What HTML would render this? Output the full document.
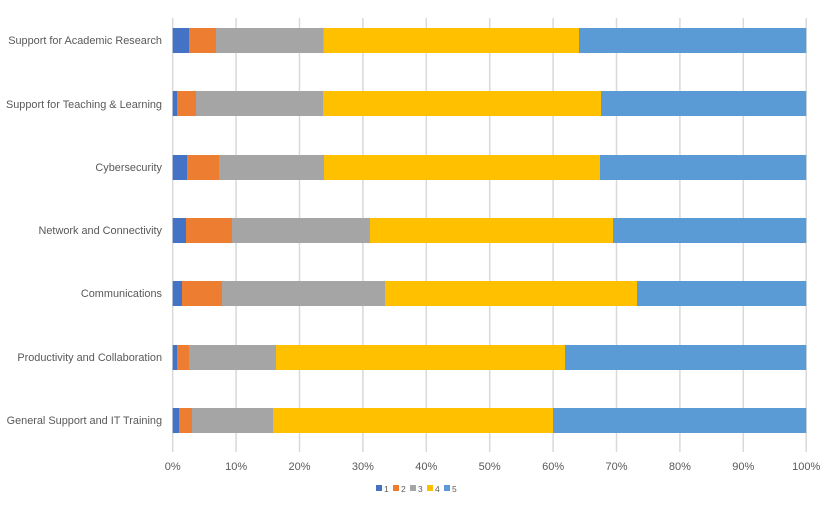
<!DOCTYPE html>
<html><head><meta charset="utf-8"><style>
body{margin:0;background:#fff;}
text{font-family:"Liberation Sans",sans-serif;fill:#595959;}
</style></head><body>
<svg width="829" height="503" xmlns="http://www.w3.org/2000/svg">
<g stroke="#d9d9d9" stroke-width="1.5">
<line x1="172.7" y1="18" x2="172.7" y2="452"/><line x1="236.1" y1="18" x2="236.1" y2="452"/><line x1="299.5" y1="18" x2="299.5" y2="452"/><line x1="362.9" y1="18" x2="362.9" y2="452"/><line x1="426.3" y1="18" x2="426.3" y2="452"/><line x1="489.7" y1="18" x2="489.7" y2="452"/><line x1="553.1" y1="18" x2="553.1" y2="452"/><line x1="616.5" y1="18" x2="616.5" y2="452"/><line x1="679.9" y1="18" x2="679.9" y2="452"/><line x1="743.3" y1="18" x2="743.3" y2="452"/><line x1="806.2" y1="18" x2="806.2" y2="452"/>
</g>
<g>
<rect x="172.7" y="28" width="16.3" height="25" fill="#4472c4"/><rect x="189" y="28" width="27" height="25" fill="#ed7d31"/><rect x="216" y="28" width="107.5" height="25" fill="#a5a5a5"/><rect x="323.5" y="28" width="255.5" height="25" fill="#ffc000"/><rect x="579" y="28" width="227.2" height="25" fill="#5b9bd5"/>
<rect x="172.7" y="91" width="4.3" height="25" fill="#4472c4"/><rect x="177" y="91" width="19" height="25" fill="#ed7d31"/><rect x="196" y="91" width="127" height="25" fill="#a5a5a5"/><rect x="323" y="91" width="278" height="25" fill="#ffc000"/><rect x="601" y="91" width="205.2" height="25" fill="#5b9bd5"/>
<rect x="172.7" y="155" width="14.3" height="25" fill="#4472c4"/><rect x="187" y="155" width="32" height="25" fill="#ed7d31"/><rect x="219" y="155" width="105" height="25" fill="#a5a5a5"/><rect x="324" y="155" width="276" height="25" fill="#ffc000"/><rect x="600" y="155" width="206.2" height="25" fill="#5b9bd5"/>
<rect x="172.7" y="218" width="13.3" height="25" fill="#4472c4"/><rect x="186" y="218" width="46" height="25" fill="#ed7d31"/><rect x="232" y="218" width="138" height="25" fill="#a5a5a5"/><rect x="370" y="218" width="243" height="25" fill="#ffc000"/><rect x="613" y="218" width="193.2" height="25" fill="#5b9bd5"/>
<rect x="172.7" y="281" width="9.3" height="25" fill="#4472c4"/><rect x="182" y="281" width="40" height="25" fill="#ed7d31"/><rect x="222" y="281" width="163" height="25" fill="#a5a5a5"/><rect x="385" y="281" width="252" height="25" fill="#ffc000"/><rect x="637" y="281" width="169.2" height="25" fill="#5b9bd5"/>
<rect x="172.7" y="345" width="4.3" height="25" fill="#4472c4"/><rect x="177" y="345" width="12" height="25" fill="#ed7d31"/><rect x="189" y="345" width="87" height="25" fill="#a5a5a5"/><rect x="276" y="345" width="289" height="25" fill="#ffc000"/><rect x="565" y="345" width="241.2" height="25" fill="#5b9bd5"/>
<rect x="172.7" y="408" width="6.3" height="25" fill="#4472c4"/><rect x="179" y="408" width="13" height="25" fill="#ed7d31"/><rect x="192" y="408" width="81" height="25" fill="#a5a5a5"/><rect x="273" y="408" width="280" height="25" fill="#ffc000"/><rect x="553" y="408" width="253.2" height="25" fill="#5b9bd5"/>
</g>
<g font-size="10.9" text-anchor="end">
<text x="162" y="44">Support for Academic Research</text>
<text x="162" y="108">Support for Teaching &amp; Learning</text>
<text x="162" y="171">Cybersecurity</text>
<text x="162" y="234">Network and Connectivity</text>
<text x="162" y="297">Communications</text>
<text x="162" y="361">Productivity and Collaboration</text>
<text x="162" y="424">General Support and IT Training</text>
</g>
<g font-size="11" text-anchor="middle">
<text x="172.7" y="470">0%</text><text x="236.1" y="470">10%</text><text x="299.5" y="470">20%</text><text x="362.9" y="470">30%</text><text x="426.3" y="470">40%</text><text x="489.7" y="470">50%</text><text x="553.1" y="470">60%</text><text x="616.5" y="470">70%</text><text x="679.9" y="470">80%</text><text x="743.3" y="470">90%</text><text x="806.2" y="470">100%</text>
</g>
<g font-size="8.5">
<rect x="376" y="485" width="6" height="6" fill="#4472c4"/><text x="384" y="492">1</text>
<rect x="393" y="485" width="6" height="6" fill="#ed7d31"/><text x="401" y="492">2</text>
<rect x="410" y="485" width="6" height="6" fill="#a5a5a5"/><text x="418" y="492">3</text>
<rect x="427" y="485" width="6" height="6" fill="#ffc000"/><text x="435" y="492">4</text>
<rect x="444" y="485" width="6" height="6" fill="#5b9bd5"/><text x="452" y="492">5</text>
</g>
</svg>
</body></html>
